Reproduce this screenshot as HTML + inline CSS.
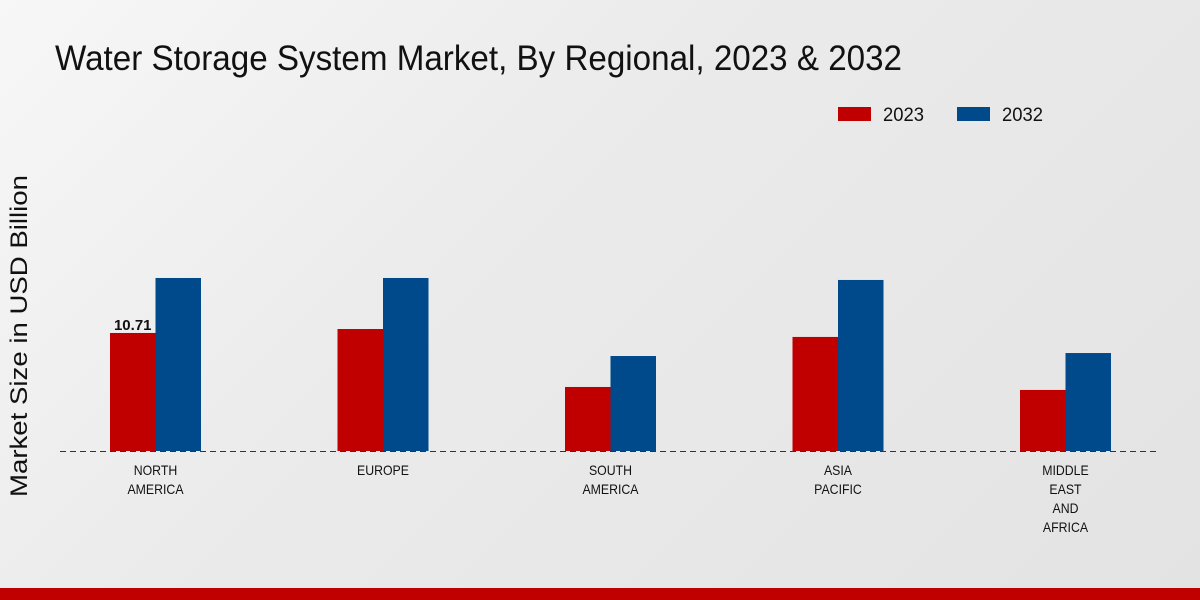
<!DOCTYPE html>
<html><head><meta charset="utf-8"><style>
html,body{margin:0;padding:0;width:1200px;height:600px;overflow:hidden}
body{background:linear-gradient(135deg,#f7f7f7 0%,#ebebeb 40%,#e3e3e3 100%);font-family:"Liberation Sans",sans-serif}
</style></head><body>
<svg id="chart" width="1200" height="600" xmlns="http://www.w3.org/2000/svg">
<text x="55" y="70" font-size="35" textLength="847" lengthAdjust="spacingAndGlyphs" fill="#111">Water Storage System Market, By Regional, 2023 &amp; 2032</text>
<text transform="translate(27,336) rotate(-90)" text-anchor="middle" font-size="24" textLength="322" lengthAdjust="spacingAndGlyphs" fill="#111">Market Size in USD Billion</text>
<g>
<rect x="838" y="107" width="33" height="14" fill="#c00000"/>
<text x="883" y="121" font-size="19" textLength="41" lengthAdjust="spacingAndGlyphs" fill="#111">2023</text>
<rect x="957" y="107" width="33" height="14" fill="#004a8c"/>
<text x="1002" y="121" font-size="19" textLength="41" lengthAdjust="spacingAndGlyphs" fill="#111">2032</text>
</g>
<g id="bars"></g>
<line x1="60" y1="451.5" x2="1160" y2="451.5" stroke="#333" stroke-dasharray="6,4"/>
<g id="labels"></g>
<rect x="0" y="588" width="1200" height="12" fill="#c00000"/>
</svg>
<script>
const categories=[["NORTH","AMERICA"],["EUROPE"],["SOUTH","AMERICA"],["ASIA","PACIFIC"],["MIDDLE","EAST","AND","AFRICA"]];
const values2023=[10.71,11.07,5.81,10.35,5.54];
const values2032=[15.7,15.7,8.62,15.52,8.89];
const valueLabels=["10.71","","","",""];
const NS="http://www.w3.org/2000/svg";
const baseY=451, pxPer=11.02, x0=155.5, step=227.5, bw=45.5;
const yS=v=>baseY-v*pxPer;
const xC=i=>x0+i*step;
const bars=document.getElementById('bars'), labels=document.getElementById('labels');
function mk(t,a){const e=document.createElementNS(NS,t);for(const k in a)e.setAttribute(k,a[k]);return e;}
categories.forEach((c,i)=>{
 const r1=mk('rect',{x:xC(i)-bw,y:yS(values2023[i]),width:bw,height:values2023[i]*pxPer,fill:'#c00000'});
 
 
 bars.appendChild(r1);
 const r2=mk('rect',{x:xC(i),y:yS(values2032[i]),width:bw,height:values2032[i]*pxPer,fill:'#004a8c'});
 
 
 bars.appendChild(r2);
 if(valueLabels[i]){
  const t=mk('text',{x:xC(i)-bw/2,y:yS(values2023[i])-3,'text-anchor':'middle','font-size':'15','font-weight':'bold',fill:'#111'});
  t.textContent=valueLabels[i];
  
  
  bars.appendChild(t);
 }
 c.forEach((line,j)=>{
  const t=mk('text',{x:xC(i),y:475+j*19,'text-anchor':'middle','font-size':'14',fill:'#111',transform:'translate('+xC(i)+',0) scale(0.88,1) translate('+(-xC(i))+',0)'});
  t.textContent=line;
  
  
  labels.appendChild(t);
 });
});
</script>
</body></html>
